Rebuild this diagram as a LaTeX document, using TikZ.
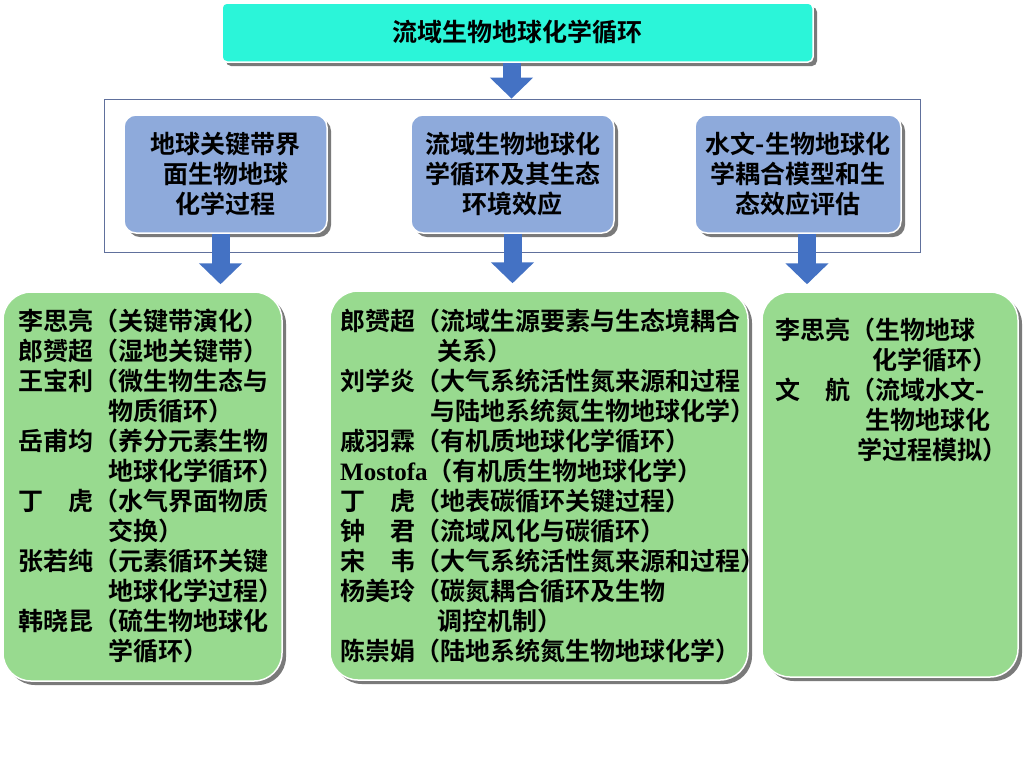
\documentclass[tikz,border=0pt]{standalone}
\usepackage{fontspec}
\setmainfont{Noto Sans CJK SC}[BoldFont={* Bold}]
\newfontfamily\romanfont{Liberation Serif}
\usepackage{tikz}
\usetikzlibrary{positioning}
\usetikzlibrary{shadows}
\usetikzlibrary{arrows.meta}

\definecolor{topcyan}{RGB}{43,245,217}
\definecolor{boxblue}{RGB}{142,170,219}
\definecolor{boxgreen}{RGB}{152,218,143}
\definecolor{arrowblue}{RGB}{68,114,196}
\definecolor{framegray}{RGB}{96,112,156}

\begin{document}
\begin{tikzpicture}[x=1pt, y=-1pt,
  font=\bfseries\fontsize{25}{30}\selectfont,
  box/.style={draw=white, line width=1.5pt, inner sep=0,
    drop shadow={shadow xshift=4pt, shadow yshift=-4pt, fill=black!52, opacity=1}},
  blockarrow/.style={arrowblue, line width=18pt, -{Triangle[width=42pt, length=21pt]}},
  entry/.style={anchor=base west, inner sep=0}]

  \path[use as bounding box, fill=white] (0,0) rectangle (1024,764);

  % frame round the three topics
  \node[draw=framegray, line width=.8pt, minimum width=816pt, minimum height=153pt] (frame) at (512,175.5) {};

  % title
  \node[box, fill=topcyan, rounded corners=5pt, minimum width=591pt, minimum height=59pt] (top) at (517.5,32.5) {流域生物地球化学循环};

  % topics
  \node[box, fill=boxblue, rounded corners=12pt, align=center, minimum width=203pt, minimum height=118pt] (b1) at (225.5,174) {地球关键带界\\面生物地球\\化学过程};
  \node[box, fill=boxblue, rounded corners=12pt, align=center, minimum width=203pt, minimum height=118pt] (b2) at (512.5,174) {流域生物地球化\\学循环及其生态\\环境效应};
  \node[box, fill=boxblue, rounded corners=12pt, align=center, minimum width=206pt, minimum height=118pt] (b3) at (798,174) {水文-生物地球化\\学耦合模型和生\\态效应评估};

  % people
  \node[box, fill=boxgreen, rounded corners=28pt, minimum width=279pt, minimum height=389pt] (g1) at (142.5,486.5) {};
  \node[box, fill=boxgreen, rounded corners=28pt, minimum width=418pt, minimum height=389pt] (g2) at (539,485.5) {};
  \node[box, fill=boxgreen, rounded corners=28pt, minimum width=256pt, minimum height=385pt] (g3) at (890,484.5) {};

  % arrows
  \draw[blockarrow] ([xshift=-6pt]top.south) -- ([xshift=-6pt]top.south |- frame.north);
  \foreach \b/\g/\dx in {b1/g1/-5, b2/g2/0, b3/g3/9}
    \draw[blockarrow] ([xshift=\dx pt]\b.south) -- ([xshift=\dx pt, yshift=7pt]\b.south |- \g.north);

  % left list
  \foreach \i/\x/\t in {0/18/{李思亮（关键带演化）}, 1/18/{郎赟超（湿地关键带）},
      2/18/{王宝利（微生物生态与}, 3/108/{物质循环）}, 4/18/{岳甫均（养分元素生物},
      5/108/{地球化学循环）}, 6/18/{丁　虎（水气界面物质}, 7/108/{交换）},
      8/18/{张若纯（元素循环关键}, 9/108/{地球化学过程）}, 10/18/{韩晓昆（硫生物地球化},
      11/108/{学循环）}}
    \node[entry] (left\i) at (\x,330.5+30*\i) {\t};

  % middle list
  \foreach \i/\x/\t in {0/340/{郎赟超（流域生源要素与生态境耦合}, 1/437/{关系）},
      2/340/{刘学炎（大气系统活性氮来源和过程}, 3/430/{与陆地系统氮生物地球化学）},
      4/340/{戚羽霖（有机质地球化学循环）}, 5/340/{{\romanfont Mostofa}（有机质生物地球化学）},
      6/340/{丁　虎（地表碳循环关键过程）}, 7/340/{钟　君（流域风化与碳循环）},
      8/340/{宋　韦（大气系统活性氮来源和过程）}, 9/340/{杨美玲（碳氮耦合循环及生物},
      10/437/{调控机制）}, 11/340/{陈崇娟（陆地系统氮生物地球化学）}}
    \node[entry] (mid\i) at (\x,330.5+30*\i) {\t};

  % right list
  \foreach \i/\x/\t in {0/775/{李思亮（生物地球}, 1/872/{化学循环）},
      2/775/{文　航（流域水文-}, 3/865/{生物地球化}, 4/857/{学过程模拟）}}
    \node[entry] (right\i) at (\x,339.5+30*\i) {\t};
\end{tikzpicture}
\end{document}
